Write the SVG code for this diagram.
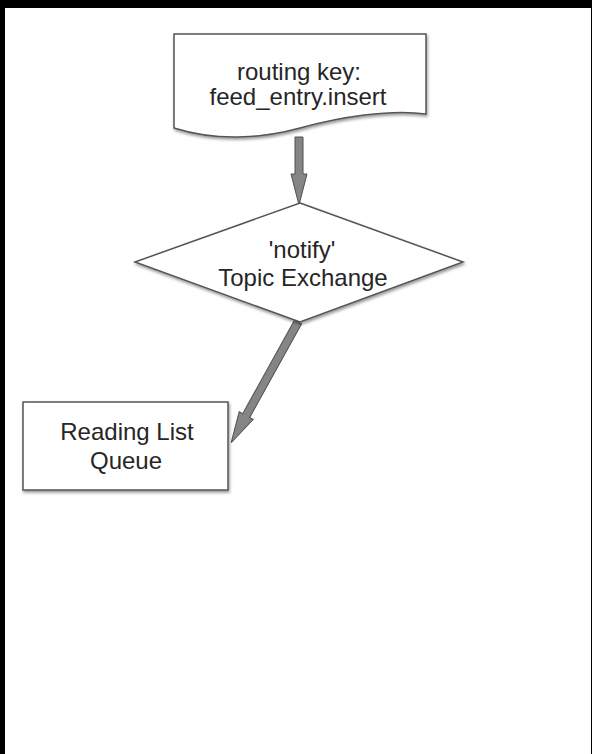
<svg xmlns="http://www.w3.org/2000/svg" width="592" height="754" viewBox="0 0 592 754">
<defs>
<filter id="sh" x="-10%" y="-10%" width="130%" height="130%">
<feDropShadow dx="1" dy="2" stdDeviation="1.8" flood-color="#000" flood-opacity="0.4"/>
</filter>
<style>
.shape{fill:#fff;stroke:#555;stroke-width:1.5;filter:url(#sh)}
.lbl{font-family:"Liberation Sans",Arial,sans-serif;font-size:24px;fill:#262626;text-anchor:middle}
.arr{fill:#858585;stroke:#505050;stroke-width:1}
</style>
</defs>
<rect x="0" y="0" width="592" height="754" fill="#000"/>
<rect x="5" y="8" width="586" height="746" fill="#fff"/>
<g id="connectors">
<polygon class="arr" transform="translate(299,137) rotate(90)" points="0,-4 37,-4 37,-8 68,0 37,8 37,4 0,4"/>
<polygon class="arr" transform="translate(298,322) rotate(118.97)" points="0,-4 107,-4 107,-8 138,0 107,8 107,4 0,4"/>
</g>
<g id="routing-key">
<path class="shape" d="M174,34 H426 V114 C390,109 340,117 300,128 C260,139 215,141 174,128 Z"/>
<text class="lbl" x="299" y="80">routing key:</text>
<text class="lbl" x="298" y="105">feed_entry.insert</text>
</g>
<g id="topic-exchange">
<polygon class="shape" points="300,203 463,262 300,322 135,262"/>
<text class="lbl" x="302" y="258">'notify'</text>
<text class="lbl" x="303" y="286">Topic Exchange</text>
</g>
<g id="reading-list-queue">
<rect class="shape" x="23" y="402" width="205" height="88"/>
<text class="lbl" x="127" y="440">Reading List</text>
<text class="lbl" x="126" y="469">Queue</text>
</g>
</svg>
